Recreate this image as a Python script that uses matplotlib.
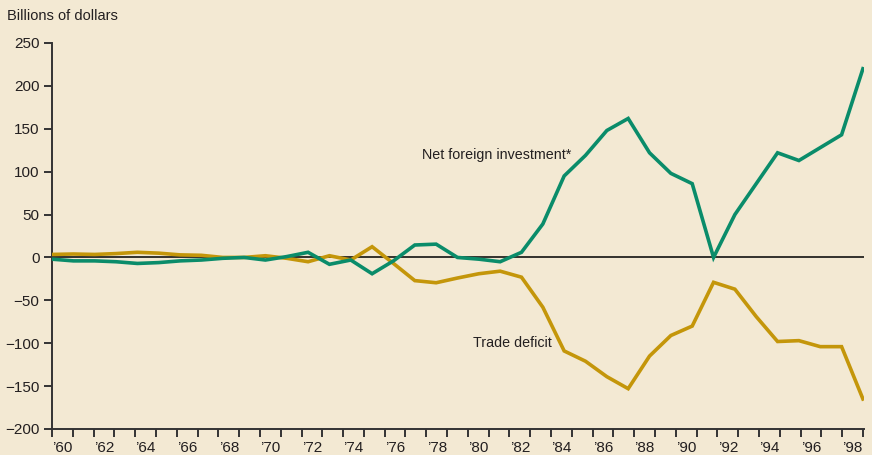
import numpy as np
import matplotlib
matplotlib.use("Agg")
import matplotlib.pyplot as plt

years = list(range(1960, 1999))
net_foreign_investment = [
    -2, -4, -4, -5, -7, -6, -4, -3, -1, 0,
    -3, 1, 6, -8, -3, -19, -4, 14.5, 15.5, 0,
    -2, -5, 6, 39, 95, 119, 148, 162, 122, 98,
    86, 0, 50, 86, 122, 113, 128, 143, 220,
]
trade_deficit = [
    3.5, 4, 3.5, 4.5, 6, 5, 3, 2.5, 0, 0,
    2, -1, -5, 2, -3, 12.5, -7, -27, -29.5, -24,
    -19, -16, -23, -58, -109, -121, -139, -153, -115, -91,
    -80, -29, -37, -69, -98, -97, -104, -104, -165,
]
y_ticks = [250, 200, 150, 100, 50, 0, -50, -100, -150, -200]
x_labels = ["\u201960", "\u201962", "\u201964", "\u201966", "\u201968", "\u201970",
            "\u201972", "\u201974", "\u201976", "\u201978", "\u201980", "\u201982",
            "\u201984", "\u201986", "\u201988", "\u201990", "\u201992", "\u201994",
            "\u201996", "\u201998"]

bg = "#F3E9D3"
green = "#0A8C6A"
gold = "#C4960A"
ink = "#231F20"

plt.rcParams["font.family"] = ["Liberation Sans Narrow", "Liberation Sans", "DejaVu Sans"]

fig = plt.figure(figsize=(8.72, 4.55), dpi=100, facecolor=bg)
ax = fig.add_axes([52 / 872, 1 - 429 / 455, (864 - 52) / 872, (429 - 43) / 455])
ax.set_facecolor(bg)

x = np.array(years)
ax.axhline(0, color="black", lw=1.1, zorder=1)
ax.plot(x, trade_deficit, color=gold, lw=2.6, solid_joinstyle="miter", zorder=3)
ax.plot(x, net_foreign_investment, color=green, lw=2.6, solid_joinstyle="miter", zorder=4)

ax.set_xlim(1960, 1998.05)
ax.set_ylim(-200, 250)

for s in ["top", "right"]:
    ax.spines[s].set_visible(False)
for s in ["left", "bottom"]:
    ax.spines[s].set_color("#333333")
    ax.spines[s].set_linewidth(1.4)

ax.set_yticks(y_ticks)
ax.set_yticklabels([str(v).replace("-", "\u2212") for v in y_ticks], fontsize=11, color=ink)
ax.tick_params(axis="y", length=6, width=1.4, color="#333333", pad=3)

# year boundary ticks, labels centred in each labelled year
step = 38 / 39
ax.set_xticks(1960 + step * np.arange(40))
ax.set_xticklabels([])
ax.tick_params(axis="x", which="major", length=6, width=1.4, color="#333333")
ax.set_xticks([1960 + step * (2 * j + 0.5) for j in range(len(x_labels))], minor=True)
ax.set_xticklabels(x_labels, minor=True, fontsize=11, color=ink)
ax.tick_params(axis="x", which="minor", length=0, pad=9)

fig.text(7 / 872, 1 - 16 / 455, "Billions of dollars", fontsize=10.5, color=ink, va="center")
ax.text(1977.35, 120, "Net foreign investment*", fontsize=10.3, color=ink, va="center", ha="left")
ax.text(1979.75, -100, "Trade deficit", fontsize=10.3, color=ink, va="center", ha="left")

fig.savefig("out.png", dpi=100, facecolor=bg)
